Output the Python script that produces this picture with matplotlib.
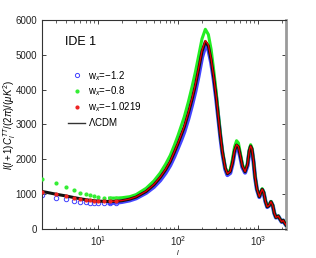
import numpy as np
import matplotlib
matplotlib.use("Agg")
import matplotlib.pyplot as plt
from matplotlib.lines import Line2D

plt.rcParams['font.family'] = ['Liberation Sans', 'DejaVu Sans']
plt.rcParams['mathtext.fontset'] = 'custom'
plt.rcParams['mathtext.rm'] = 'Liberation Sans'
plt.rcParams['mathtext.it'] = 'Liberation Sans:italic'
plt.rcParams['mathtext.bf'] = 'Liberation Sans:bold'

ell = [2, 3, 4, 5, 6, 7, 8, 9, 10, 12, 14, 17, 20, 25, 30,
       40, 50, 60, 70, 80, 90, 100, 110, 120,
       135, 150, 165, 180, 200, 220, 240, 260, 280, 300,
       320, 340, 360, 390, 415, 450, 480, 510, 540, 570, 600,
       640, 690, 740, 780, 810, 840, 880, 920, 970,
       1040, 1090, 1130, 1180, 1240, 1306, 1380, 1454, 1530, 1600,
       1680, 1740, 1795, 1860, 1977, 2070, 2150, 2240]

lcdm = [1080, 1000, 950, 905, 870, 845, 825, 812, 804, 795, 793, 800, 815, 860, 920,
        1080, 1270, 1480, 1700, 1930, 2200, 2450, 2700, 2930,
        3330, 3720, 4120, 4550, 5100, 5376, 5250, 4850, 4350, 3800,
        3200, 2650, 2200, 1750, 1590, 1650, 1900, 2250, 2410, 2360, 2120,
        1800, 1645, 1850, 2250, 2380, 2300, 1950, 1500, 1150,
        930, 1060, 1140, 1050, 800, 640, 680, 785, 680, 460,
        335, 350, 373, 310, 210, 250, 180, 120]

w_m12 = [976, 899, 852, 812, 784, 765, 756, 750, 748, 745, 748, 760, 780, 825, 885,
         1040, 1210, 1400, 1610, 1830, 2080, 2330, 2560, 2790,
         3170, 3560, 3950, 4370, 4930, 5250, 5150, 4780, 4300, 3760,
         3170, 2620, 2170, 1720, 1550, 1610, 1860, 2200, 2350, 2300, 2080,
         1770, 1620, 1820, 2220, 2350, 2270, 1930, 1485, 1140,
         920, 1050, 1130, 1040, 792, 634, 673, 777, 673, 455,
         332, 346, 369, 307, 208, 247, 178, 119]

w_m08 = [1435, 1311, 1215, 1120, 1042, 1005, 967, 947, 927, 905, 890, 890, 900, 930, 990,
         1170, 1380, 1610, 1860, 2110, 2400, 2680, 2960, 3220,
         3650, 4080, 4500, 4930, 5460, 5730, 5580, 5150, 4550, 3950,
         3300, 2700, 2230, 1770, 1610, 1700, 2000, 2360, 2535, 2470, 2200,
         1850, 1670, 1880, 2290, 2420, 2330, 1970, 1510, 1160,
         940, 1075, 1160, 1065, 810, 648, 690, 795, 690, 466,
         340, 355, 378, 314, 212, 253, 182, 121]

w_m10219 = [1070, 995, 947, 899, 861, 842, 823, 810, 804, 796, 795, 802, 818, 864, 925,
            1088, 1280, 1490, 1712, 1945, 2215, 2465, 2715, 2950,
            3350, 3745, 4150, 4580, 5130, 5410, 5280, 4875, 4370, 3815,
            3210, 2660, 2205, 1755, 1592, 1655, 1905, 2258, 2420, 2368, 2126,
            1805, 1648, 1855, 2256, 2386, 2305, 1953, 1502, 1152,
            931, 1062, 1142, 1052, 801, 641, 681, 786, 681, 461,
            335, 350, 373, 310, 210, 250, 180, 120]

labels = [r'w$_x$=$-$1.2', r'w$_x$=$-$0.8', r'w$_x$=$-$1.0219', r'$\Lambda$CDM']

ell_a = np.array(ell)
cut_m = ell_a <= 17
cut_l = ell_a >= 14

fig = plt.figure(figsize=(3.16, 2.58), dpi=100)
ax = fig.add_axes([0.133, 0.112, 0.772, 0.811])

# blue
ax.plot(ell_a[cut_l], np.array(w_m12)[cut_l], color='#3030ff', lw=3.0, alpha=0.9, zorder=2)
ax.plot(ell_a[cut_m], np.array(w_m12)[cut_m], ls='none', marker='o', ms=3.2,
        mfc='none', mec='#4040ff', mew=0.7, zorder=2)
# green
ax.plot(ell_a[cut_l], np.array(w_m08)[cut_l], color='#22ee22', lw=2.2, zorder=3)
ax.plot(ell_a[cut_m], np.array(w_m08)[cut_m], ls='none', marker='o', ms=2.0,
        mfc='#33ee33', mec='#33ee33', zorder=3)
# black line
ax.plot(ell, lcdm, color='#111111', lw=2.2, zorder=4)
# red
ax.plot(ell_a[cut_l], np.array(w_m10219)[cut_l], color='#ee0000', lw=0.9, zorder=5)
ax.plot(ell_a[cut_m], np.array(w_m10219)[cut_m], ls='none', marker='o', ms=2.0,
        mfc='#ee2222', mec='#ee2222', zorder=5)

ax.set_xscale('log')
ax.set_xlim(2, 2240)
ax.set_ylim(0, 6000)
ax.set_yticks([0, 1000, 2000, 3000, 4000, 5000, 6000])
ax.set_xticks([10, 100, 1000])
ax.set_xticklabels([r'$10^1$', r'$10^2$', r'$10^3$'])
ax.tick_params(which='both', direction='in', top=True, right=True,
               labelsize=7, colors='#222222')
ax.tick_params(which='major', length=3, width=0.6)
ax.tick_params(which='minor', length=1.8, width=0.5)
for s in ['left', 'top', 'bottom']:
    ax.spines[s].set_color('#333333')
    ax.spines[s].set_linewidth(0.8)
ax.spines['right'].set_color('#9a9a9a')
ax.spines['right'].set_linewidth(2.0)

ax.set_ylabel(r'$l(l+1)C_l^{TT}/(2\pi)/(\mu K^2)$', fontsize=7)
ax.yaxis.set_label_coords(-0.10, 0.5)
ax.set_xlabel(r'$l$', fontsize=5)
ax.xaxis.set_label_coords(0.557, -0.09)

ax.text(0.094, 0.895, 'IDE 1', transform=ax.transAxes, fontsize=9,
        ha='left', va='center')

handles = [
    Line2D([], [], ls='none', marker='o', ms=3, mfc='none', mec='#4040ff', mew=0.7),
    Line2D([], [], ls='none', marker='o', ms=2, mfc='#33ee33', mec='#33ee33'),
    Line2D([], [], ls='none', marker='o', ms=2, mfc='#ee2222', mec='#ee2222'),
    Line2D([], [], color='#333333', lw=1.0),
]
leg = ax.legend(handles, labels, loc='upper left', bbox_to_anchor=(0.09, 0.785),
                frameon=False, handlelength=1.8, handletextpad=0.3,
                labelspacing=0.2, borderaxespad=0,
                prop={'family': 'Liberation Sans', 'size': 7})

fig.savefig('out.png', dpi=100)
